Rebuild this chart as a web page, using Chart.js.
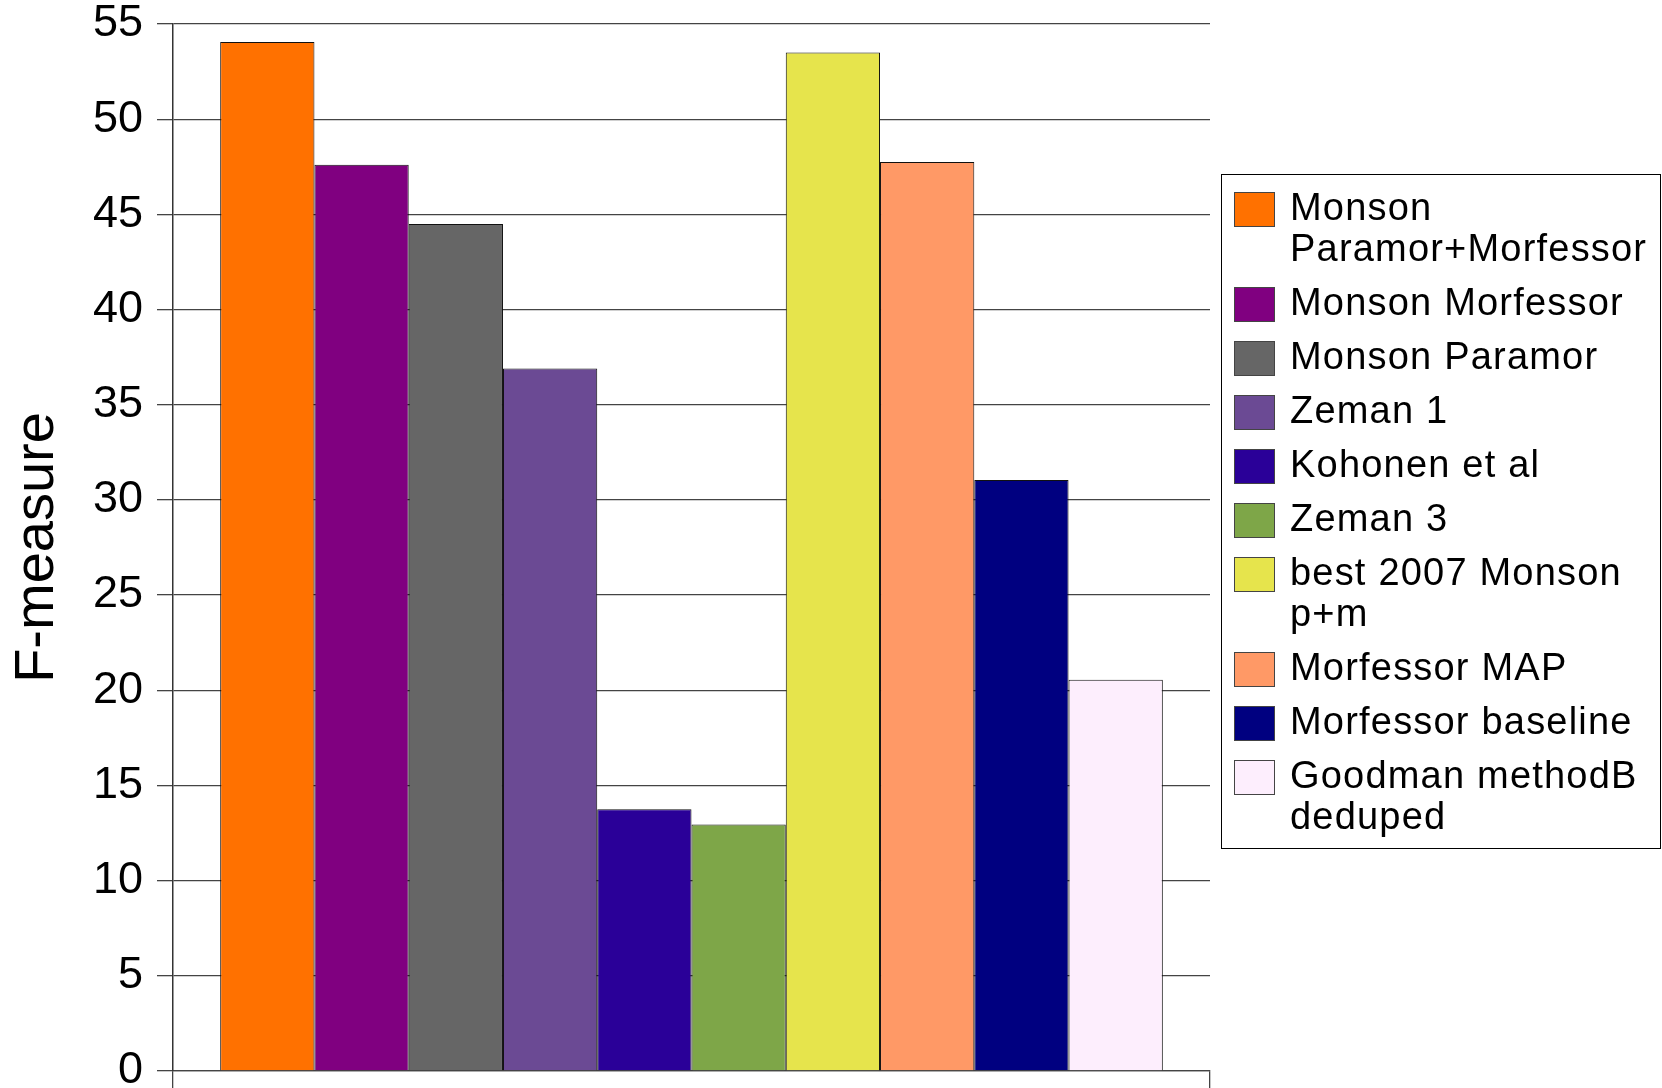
<!DOCTYPE html>
<html>
<head>
<meta charset="utf-8">
<title>F-measure</title>
<script src="https://cdn.jsdelivr.net/npm/chart.js@4.4.1/dist/chart.umd.min.js"></script>
<style>
  html, body { margin: 0; padding: 0; background: #fff; }
  canvas { display: block; }
</style>
</head>
<body>
<canvas id="myChart" width="1662" height="1088"></canvas>
<script>
var seriesNames = [
  "Monson\nParamor+Morfessor",
  "Monson Morfessor",
  "Monson Paramor",
  "Zeman 1",
  "Kohonen et al",
  "Zeman 3",
  "best 2007 Monson\np+m",
  "Morfessor MAP",
  "Morfessor baseline",
  "Goodman methodB\ndeduped"
];
var fMeasure = [54.05, 47.6, 44.5, 36.9, 13.75, 12.95, 53.5, 47.75, 31.05, 20.55];
var seriesColors = [
  "#ff7100", "#800080", "#666666", "#6b4a94", "#2a0098",
  "#7ea648", "#e6e44c", "#ff9966", "#000080", "#fdeefd"
];
var yMin = 0, yMax = 55, yStep = 5;

var FONT = "'Liberation Sans', Arial, sans-serif";

// legend drawn in a framed box to the right of the plot
var boxedLegend = {
  id: 'boxedLegend',
  afterDraw: function (chart, args, opts) {
    var ctx = chart.ctx;
    ctx.save();
    ctx.strokeStyle = '#000';
    ctx.lineWidth = 1;
    ctx.strokeRect(opts.left + 0.5, opts.top + 0.5, opts.width, opts.height);

    ctx.font = opts.fontSize + 'px ' + FONT;
    ctx.letterSpacing = opts.letterSpacing + 'px';
    ctx.textBaseline = 'middle';
    ctx.textAlign = 'left';

    var y = opts.firstItem;
    chart.data.datasets.forEach(function (ds) {
      var lines = ds.label.split('\n');
      ctx.fillStyle = ds.backgroundColor;
      ctx.fillRect(opts.left + 13, y, 41, 35);
      ctx.strokeStyle = '#444';
      ctx.strokeRect(opts.left + 13.5, y + 0.5, 40, 34);
      ctx.fillStyle = '#000';
      lines.forEach(function (line, i) {
        ctx.fillText(line, opts.left + 69, y + 18 + i * opts.lineStep);
      });
      y += opts.itemStep + (lines.length - 1) * opts.lineStep;
    });
    ctx.restore();
  }
};

window.onload = function () {
  var ctx = document.getElementById("myChart").getContext("2d");
  var datasets = seriesNames.map(function (name, i) {
    return {
      label: name,
      data: [fMeasure[i]],
      backgroundColor: seriesColors[i],
      borderColor: '#111',
      borderWidth: 1,
      borderSkipped: 'start',
      categoryPercentage: 0.909,
      barPercentage: 1.0
    };
  });

  new Chart(ctx, {
    type: 'bar',
    data: { labels: [''], datasets: datasets },
    plugins: [boxedLegend],
    options: {
      responsive: false,
      animation: false,
      layout: { padding: { top: 24, right: 452, bottom: 0, left: 0 } },
      plugins: {
        legend: { display: false },
        tooltip: { enabled: false },
        boxedLegend: {
          left: 1221, top: 174, width: 439, height: 674,
          firstItem: 192, itemStep: 54, lineStep: 41,
          fontSize: 38, letterSpacing: 1.2
        }
      },
      scales: {
        x: {
          offset: true,
          grid: { offset: true, drawOnChartArea: false, tickLength: 17, color: '#444', lineWidth: 1.3 },
          border: { color: '#444', width: 1.3 },
          ticks: { display: false }
        },
        y: {
          min: yMin,
          max: yMax,
          afterFit: function (scale) {
            scale.width = 173;
            scale.paddingTop = 0;
            scale.paddingBottom = 0;
          },
          ticks: {
            stepSize: yStep,
            color: '#000',
            padding: 14,
            font: { family: FONT, size: 45 }
          },
          grid: { color: '#444', lineWidth: 1.3, tickLength: 16 },
          border: { color: '#333', width: 1.5 },
          title: {
            display: true,
            text: 'F-measure',
            color: '#000',
            padding: { top: 4, bottom: 0 },
            font: { family: FONT, size: 56, lineHeight: 1.2 }
          }
        }
      }
    }
  });
};
</script>
</body>
</html>
